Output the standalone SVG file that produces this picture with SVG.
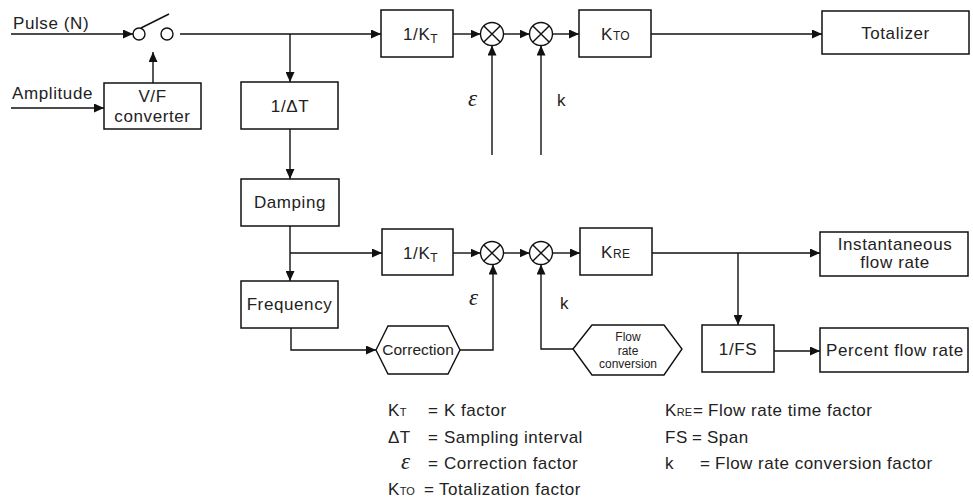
<svg xmlns="http://www.w3.org/2000/svg" width="973" height="504" viewBox="0 0 973 504">
<defs>
<marker id="ah" markerUnits="userSpaceOnUse" markerWidth="10" markerHeight="9" refX="10" refY="4.5" orient="auto">
<path d="M0,0 L10,4.5 L0,9 z" fill="#111"/>
</marker>
<style>
.box{fill:#fff;stroke:#111;stroke-width:1.5}
.ln{fill:none;stroke:#111;stroke-width:1.4}
.ar{fill:none;stroke:#111;stroke-width:1.4;marker-end:url(#ah)}
.t{font-family:"Liberation Sans",Arial,sans-serif;font-size:17px;letter-spacing:0.6px;fill:#222}
.c{text-anchor:middle}
.sm{font-size:12px;letter-spacing:0.3px}
.lg{font-family:"Liberation Sans",Arial,sans-serif;font-size:17px;letter-spacing:0.5px;fill:#222}
.ls{font-size:11px;letter-spacing:0}
.hs{font-family:"Liberation Sans",Arial,sans-serif;fill:#222;text-anchor:middle}
.eps{font-family:"Liberation Serif","DejaVu Serif",serif;font-style:italic;font-size:23px;fill:#222}
.hx{fill:#fff;stroke:#111;stroke-width:1.4}
</style>
</defs>
<rect width="973" height="504" fill="#fff"/>

<g id="connectors">
<path class="ar" d="M11,34 H133"/>
<path class="ln" d="M141,28 L169,14"/>
<path class="ar" d="M180,34 H381"/>
<path class="ar" d="M153,83 V52"/>
<path class="ar" d="M11,108 H104"/>
<path class="ar" d="M290,34 V82"/>
<path class="ar" d="M290,129 V179"/>
<path class="ar" d="M290,226 V281"/>
<path class="ar" d="M290,253 H382"/>
<path class="ar" d="M291,328 V350 H376"/>
<path class="ar" d="M453,34 H480.5"/>
<path class="ar" d="M503.5,34 H529.5"/>
<path class="ar" d="M552.5,34 H579"/>
<path class="ar" d="M651,34 H822"/>
<path class="ar" d="M492,155 V45.5"/>
<path class="ar" d="M541,155 V45.5"/>
<path class="ar" d="M453,253 H480.5"/>
<path class="ar" d="M503.5,253 H529.5"/>
<path class="ar" d="M552.5,253 H580"/>
<path class="ar" d="M652,253 H820"/>
<path class="ar" d="M738,253 V325"/>
<path class="ar" d="M774,351 H820"/>
<path class="ar" d="M460,350 H493 V264.5"/>
<path class="ar" d="M573,349 H541 V264.5"/>
</g>

<g id="labels">
<text class="t" x="13" y="29">Pulse (N)</text>
<text class="t" x="12" y="99">Amplitude</text>
<text class="eps" x="468" y="106">ε</text>
<text class="t" x="557" y="106">k</text>
<text class="eps" x="469" y="305">ε</text>
<text class="t" x="560" y="309">k</text>
</g>

<g id="switch">
<circle cx="139" cy="34" r="6" fill="#fff" stroke="#111" stroke-width="1.4"/>
<circle cx="167" cy="34" r="6" fill="#fff" stroke="#111" stroke-width="1.4"/>
</g>

<g id="vf-converter">
<rect class="box" x="104" y="83" width="97" height="46"/>
<text class="t c" x="152.5" y="102">V/F</text>
<text class="t c" x="152.5" y="122">converter</text>
</g>

<g id="inv-dt">
<rect class="box" x="241" y="82" width="97" height="47"/>
<text class="t c" x="290" y="112">1/ΔT</text>
</g>

<g id="damping">
<rect class="box" x="241" y="179" width="98" height="47"/>
<text class="t c" x="290" y="208">Damping</text>
</g>

<g id="frequency">
<rect class="box" x="241" y="281" width="97" height="47"/>
<text class="t c" x="289.5" y="310">Frequency</text>
</g>

<g id="inv-kt-top">
<rect class="box" x="381" y="10" width="72" height="47"/>
<text class="t" x="403" y="40">1/K<tspan class="sm" dy="3">T</tspan></text>
</g>

<g id="mult-eps-top">
<circle cx="492" cy="34" r="11.5" fill="#fff" stroke="#111" stroke-width="1.4"/>
<path class="ln" d="M483.9,25.9 L500.1,42.1 M500.1,25.9 L483.9,42.1"/>
</g>

<g id="mult-k-top">
<circle cx="541" cy="34" r="11.5" fill="#fff" stroke="#111" stroke-width="1.4"/>
<path class="ln" d="M532.9,25.9 L549.1,42.1 M549.1,25.9 L532.9,42.1"/>
</g>

<g id="kto">
<rect class="box" x="579" y="10" width="72" height="47"/>
<text class="t" x="601" y="40">K<tspan class="sm">TO</tspan></text>
</g>

<g id="totalizer">
<rect class="box" x="822" y="11" width="147" height="43"/>
<text class="t c" x="895.5" y="39">Totalizer</text>
</g>

<g id="inv-kt-bottom">
<rect class="box" x="382" y="229" width="71" height="46"/>
<text class="t" x="403" y="259">1/K<tspan class="sm" dy="3">T</tspan></text>
</g>

<g id="mult-eps-bottom">
<circle cx="492" cy="253" r="11.5" fill="#fff" stroke="#111" stroke-width="1.4"/>
<path class="ln" d="M483.9,244.9 L500.1,261.1 M500.1,244.9 L483.9,261.1"/>
</g>

<g id="mult-k-bottom">
<circle cx="541" cy="253" r="11.5" fill="#fff" stroke="#111" stroke-width="1.4"/>
<path class="ln" d="M532.9,244.9 L549.1,261.1 M549.1,244.9 L532.9,261.1"/>
</g>

<g id="kre">
<rect class="box" x="580" y="228" width="72" height="47"/>
<text class="t" x="601" y="258">K<tspan class="sm">RE</tspan></text>
</g>

<g id="instantaneous">
<rect class="box" x="820" y="232" width="148" height="44"/>
<text class="t c" x="895" y="250">Instantaneous</text>
<text class="t c" x="895" y="268">flow rate</text>
</g>

<g id="inv-fs">
<rect class="box" x="702" y="325" width="72" height="47"/>
<text class="t c" x="738" y="355">1/FS</text>
</g>

<g id="percent">
<rect class="box" x="820" y="328" width="148" height="44"/>
<text class="t c" x="895" y="356">Percent flow rate</text>
</g>

<g id="correction">
<polygon class="hx" points="376,350 388,326 448,326 460,350 448,374 388,374"/>
<text class="hs" x="418" y="355" font-size="15.5">Correction</text>
</g>

<g id="flow-rate-conversion">
<polygon class="hx" points="573,349 592,325 664,325 682,349 664,375 592,375"/>
<text class="hs" x="628" y="341" font-size="12">Flow</text>
<text class="hs" x="628" y="354.5" font-size="12">rate</text>
<text class="hs" x="628" y="368" font-size="12">conversion</text>
</g>

<g id="legend">
<text class="lg" y="416"><tspan x="388">K</tspan><tspan class="ls">T</tspan><tspan x="428">=</tspan><tspan x="444">K factor</tspan></text>
<text class="lg" y="443"><tspan x="388">ΔT</tspan><tspan x="428">=</tspan><tspan x="444">Sampling interval</tspan></text>
<text class="eps" x="401" y="469">ε</text>
<text class="lg" y="469"><tspan x="428">=</tspan><tspan x="444">Correction factor</tspan></text>
<text class="lg" y="495"><tspan x="388">K</tspan><tspan class="ls">TO</tspan><tspan x="424">=</tspan><tspan x="439">Totalization factor</tspan></text>
<text class="lg" y="416"><tspan x="665">K</tspan><tspan class="ls">RE</tspan><tspan x="693">=</tspan><tspan x="708">Flow rate time factor</tspan></text>
<text class="lg" y="443"><tspan x="665">FS</tspan><tspan x="692">=</tspan><tspan x="707">Span</tspan></text>
<text class="lg" y="469"><tspan x="665">k</tspan><tspan x="700">=</tspan><tspan x="715">Flow rate conversion factor</tspan></text>
</g>
</svg>
